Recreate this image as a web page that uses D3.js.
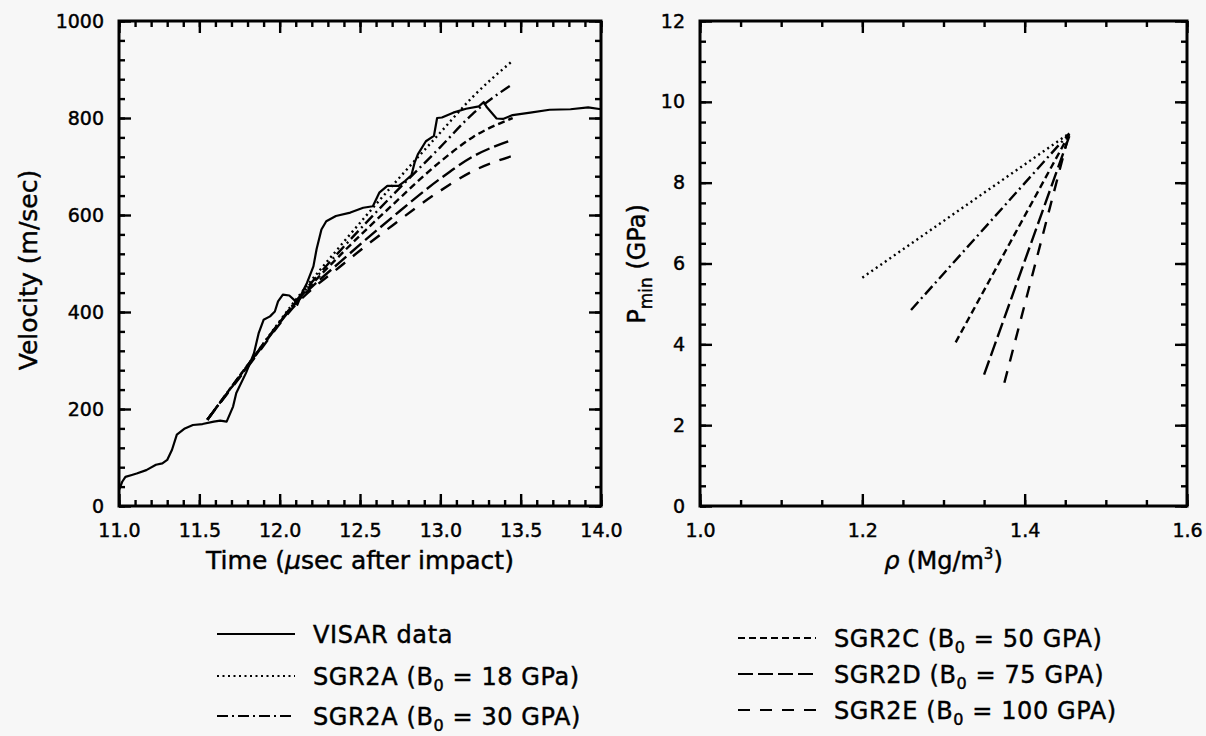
<!DOCTYPE html>
<html>
<head>
<meta charset="utf-8">
<script src="https://cdn.jsdelivr.net/npm/d3@7"></script>
<style>
	body { margin: 0; background: #f7f7f7; }
	svg { display: block; }
	text { font-family: 'DejaVu Sans', sans-serif; fill: #000; stroke: #000; stroke-width: 0.45px; }
</style>
</head>
<body>
<svg id="figure" width="1206" height="736"></svg>
<script>
'use strict' ;

// VISAR trace, left panel
const visarTime = [ 11.00, 11.02, 11.04, 11.08, 11.11, 11.17, 11.23, 11.27, 11.30, 11.33, 11.36, 11.41, 11.46, 11.52, 11.59, 11.63, 11.67, 11.71, 11.73, 11.79, 11.84, 11.87, 11.90, 11.94, 11.97, 11.99, 12.02, 12.06, 12.09, 12.11, 12.14, 12.17, 12.21, 12.23, 12.26, 12.29, 12.35, 12.44, 12.52, 12.58, 12.62, 12.67, 12.74, 12.78, 12.82, 12.84, 12.86, 12.91, 12.96, 12.98, 13.01, 13.08, 13.16, 13.24, 13.27, 13.29, 13.35, 13.39, 13.45, 13.56, 13.68, 13.81, 13.92, 14.00 ] ;
const visarVelocity = [ 33, 50, 60, 64, 67, 74, 85, 88, 95, 116, 147, 160, 167, 169, 174, 176, 174, 205, 233, 274, 315, 357, 384, 391, 401, 422, 436, 434, 425, 415, 440, 460, 494, 530, 570, 587, 598, 605, 615, 618, 646, 660, 660, 670, 682, 708, 725, 752, 763, 800, 801, 811, 819, 824, 833, 822, 799, 798, 806, 811, 817, 818, 822, 818 ] ;

// model curves, left panel
const modelTime = [ 11.55, 11.8, 12.1, 12.4, 12.7, 13.0, 13.2, 13.45 ] ;
const sgr2a18 = [ 178, 290, 425, 545, 660, 770, 843, 918 ] ;
const sgr2a30 = [ 178, 290, 422, 535, 640, 740, 808, 870 ] ;
const sgr2c = [ 178, 290, 420, 525, 620, 710, 760, 800 ] ;
const sgr2d = [ 178, 288, 418, 510, 595, 675, 720, 755 ] ;
const sgr2e = [ 178, 286, 415, 500, 578, 650, 690, 722 ] ;

// right panel segments, same model order
const rhoStart = [ 1.200, 1.260, 1.315, 1.350, 1.375 ] ;
const pminStart = [ 5.65, 4.85, 4.05, 3.25, 3.05 ] ;
const rhoEnd = [ 1.455, 1.455, 1.455, 1.455, 1.452 ] ;
const pminEnd = [ 9.22, 9.22, 9.2, 9.15, 9.0 ] ;

const legendNames = [ 'VISAR data', 'SGR2A', 'SGR2A', 'SGR2C', 'SGR2D', 'SGR2E' ] ;
const legendValues = [ null, '18 GPa', '30 GPA', '50 GPA', '75 GPA', '100 GPA' ] ;

const timeTicks = [ 11.0, 11.5, 12.0, 12.5, 13.0, 13.5, 14.0 ] ;
const velocityTicks = [ 0, 200, 400, 600, 800, 1000 ] ;
const rhoTicks = [ 1.0, 1.2, 1.4, 1.6 ] ;
const pminTicks = [ 0, 2, 4, 6, 8, 10, 12 ] ;

let svg = d3.select( '#figure' ) ;

let dashes = [ null, '2,3.5', '11,4,2,4', '7,4', '15,5', '12,10' ] ;

let geom = {
	left: { x0: 119, x1: 601, y0: 21, y1: 506 },
	right: { x0: 700, x1: 1187, y0: 21, y1: 506 }
} ;

let scales = {
	time: d3.scaleLinear().domain( [ 11, 14 ] ).range( [ geom.left.x0, geom.left.x1 ] ),
	velocity: d3.scaleLinear().domain( [ 0, 1000 ] ).range( [ geom.left.y1, geom.left.y0 ] ),
	rho: d3.scaleLinear().domain( [ 1.0, 1.6 ] ).range( [ geom.right.x0, geom.right.x1 ] ),
	pmin: d3.scaleLinear().domain( [ 0, 12 ] ).range( [ geom.right.y1, geom.right.y0 ] )
} ;

let drawFrame = function( g, box, xs, ys, xMajor, xMinor, yMajor, yMinor, xFmt, yFmt ) {
	let w = box.x1 - box.x0, h = box.y1 - box.y0 ;
	let put = function( axis, tx, ty, values, size, fmt ) {
		let a = g.append( 'g' )
			.attr( 'transform', 'translate(' + tx + ',' + ty + ')' )
			.call( axis.tickValues( values ).tickSize( -size ).tickPadding( 13 ).tickFormat( fmt ) ) ;
		a.select( '.domain' ).remove() ;
		a.selectAll( '.tick line' ).attr( 'stroke', '#000' ).attr( 'stroke-width', 2.4 ) ;
		a.selectAll( 'text' ).attr( 'font-size', '19px' ) ;
		return a ;
	} ;
	let none = () => '' ;
	put( d3.axisBottom( xs ), 0, box.y1, xMinor, 6, none ) ;
	put( d3.axisBottom( xs ), 0, box.y1, xMajor, 12, xFmt ).selectAll( 'text' ).attr( 'dy', '0.95em' ) ;
	put( d3.axisTop( xs ), 0, box.y0, xMinor, 6, none ) ;
	put( d3.axisTop( xs ), 0, box.y0, xMajor, 12, none ) ;
	put( d3.axisLeft( ys ), box.x0, 0, yMinor, 6, none ) ;
	put( d3.axisLeft( ys ), box.x0, 0, yMajor, 12, yFmt ).selectAll( 'text' ).attr( 'dx', '-2' ) ;
	put( d3.axisRight( ys ), box.x1, 0, yMinor, 6, none ) ;
	put( d3.axisRight( ys ), box.x1, 0, yMajor, 12, none ) ;
	g.append( 'rect' )
		.attr( 'x', box.x0 ).attr( 'y', box.y0 )
		.attr( 'width', w ).attr( 'height', h )
		.attr( 'fill', 'none' ).attr( 'stroke', '#000' ).attr( 'stroke-width', 3 ) ;
} ;

// left panel
{
	let g = svg.append( 'g' ) ;
	drawFrame( g, geom.left, scales.time, scales.velocity,
		timeTicks, d3.range( 11, 14.001, 0.1 ),
		velocityTicks, d3.range( 0, 1000.1, 40 ),
		d3.format( '.1f' ), d3.format( 'd' ) ) ;

	let line = d3.line().x( d => scales.time( d[0] ) ).y( d => scales.velocity( d[1] ) ) ;
	let series = [ sgr2a18, sgr2a30, sgr2c, sgr2d, sgr2e ] ;
	series.forEach( ( s, i ) => {
		g.append( 'path' )
			.attr( 'd', line.curve( d3.curveMonotoneX )( modelTime.map( ( t, j ) => [ t, s[j] ] ) ) )
			.attr( 'fill', 'none' ).attr( 'stroke', '#000' ).attr( 'stroke-width', 2.4 )
			.attr( 'stroke-dasharray', dashes[i + 1] ) ;
	} ) ;
	g.append( 'path' )
		.attr( 'd', line.curve( d3.curveLinear )( visarTime.map( ( t, j ) => [ t, visarVelocity[j] ] ) ) )
		.attr( 'fill', 'none' ).attr( 'stroke', '#000' ).attr( 'stroke-width', 2.2 )
		.attr( 'stroke-linejoin', 'round' ) ;

	g.append( 'text' )
		.attr( 'transform', 'translate(37,270) rotate(-90)' )
		.attr( 'text-anchor', 'middle' )
		.attr( 'font-size', '25px' )
		.text( 'Velocity (m/sec)' ) ;
	let xt = g.append( 'text' )
		.attr( 'x', ( geom.left.x0 + geom.left.x1 ) / 2 ).attr( 'y', 569 )
		.attr( 'text-anchor', 'middle' )
		.attr( 'font-size', '25px' ) ;
	xt.append( 'tspan' ).text( 'Time (' ) ;
	xt.append( 'tspan' ).attr( 'font-style', 'italic' ).text( 'μ' ) ;
	xt.append( 'tspan' ).text( 'sec after impact)' ) ;
}

// right panel
{
	let g = svg.append( 'g' ) ;
	drawFrame( g, geom.right, scales.rho, scales.pmin,
		rhoTicks, d3.range( 1.0, 1.6001, 0.05 ),
		pminTicks, d3.range( 0, 12.01, 0.5 ),
		d3.format( '.1f' ), d3.format( 'd' ) ) ;

	rhoStart.forEach( ( r, i ) => {
		g.append( 'line' )
			.attr( 'x1', scales.rho( r ) ).attr( 'y1', scales.pmin( pminStart[i] ) )
			.attr( 'x2', scales.rho( rhoEnd[i] ) ).attr( 'y2', scales.pmin( pminEnd[i] ) )
			.attr( 'stroke', '#000' ).attr( 'stroke-width', 2.4 )
			.attr( 'stroke-dasharray', dashes[i + 1] ) ;
	} ) ;

	let yt = g.append( 'text' )
		.attr( 'transform', 'translate(645,264) rotate(-90)' )
		.attr( 'text-anchor', 'middle' )
		.attr( 'font-size', '24px' ) ;
	yt.append( 'tspan' ).text( 'P' ) ;
	yt.append( 'tspan' ).attr( 'font-size', '17px' ).attr( 'dy', '7' ).text( 'min' ) ;
	yt.append( 'tspan' ).attr( 'dy', '-7' ).text( ' (GPa)' ) ;

	let xt = g.append( 'text' )
		.attr( 'x', ( geom.right.x0 + geom.right.x1 ) / 2 ).attr( 'y', 569 )
		.attr( 'text-anchor', 'middle' )
		.attr( 'font-size', '24px' ) ;
	xt.append( 'tspan' ).attr( 'font-style', 'italic' ).text( 'ρ' ) ;
	xt.append( 'tspan' ).text( ' (Mg/m' ) ;
	xt.append( 'tspan' ).attr( 'font-size', '15px' ).attr( 'dy', '-10' ).text( '3' ) ;
	xt.append( 'tspan' ).attr( 'dy', '10' ).text( ')' ) ;
}

// legend
{
	let rows = [ [ 634, 676, 716 ], [ 638, 674, 710 ] ] ;
	let g = svg.append( 'g' ) ;
	legendNames.forEach( ( name, i ) => {
		let col = Math.floor( i / 3 ) ;
		let x0 = col ? 738 : 217 ;
		let y = rows[col][i % 3] ;
		g.append( 'line' )
			.attr( 'x1', x0 ).attr( 'x2', x0 + 78 )
			.attr( 'y1', y ).attr( 'y2', y )
			.attr( 'stroke', '#000' ).attr( 'stroke-width', 2 )
			.attr( 'stroke-dasharray', dashes[i] ) ;
		let t = g.append( 'text' )
			.attr( 'x', x0 + 96 ).attr( 'y', y + 9 )
			.attr( 'font-size', '24px' )
			.attr( 'letter-spacing', '0.6px' ) ;
		if( legendValues[i] === null ) {
			t.text( name ) ;
		} else {
			t.append( 'tspan' ).text( name + ' (B' ) ;
			t.append( 'tspan' ).attr( 'font-size', '16px' ).attr( 'dy', '6' ).text( '0' ) ;
			t.append( 'tspan' ).attr( 'dy', '-6' ).text( ' = ' + legendValues[i] + ')' ) ;
		}
	} ) ;
}
</script>
</body>
</html>
